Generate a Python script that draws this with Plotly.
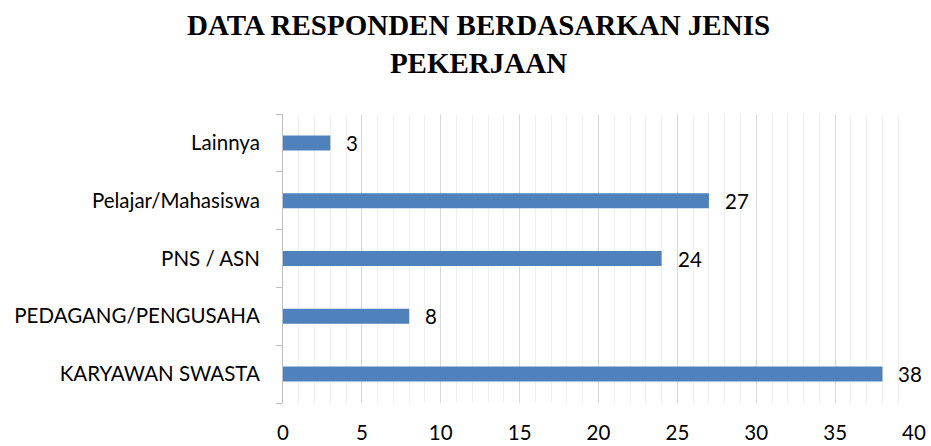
import plotly.graph_objects as go

categories = ["KARYAWAN SWASTA", "PEDAGANG/PENGUSAHA", "PNS / ASN", "Pelajar/Mahasiswa", "Lainnya"]
values = [38, 8, 24, 27, 3]
x_ticks = [0, 5, 10, 15, 20, 25, 30, 35, 40]

LABEL_FONT = "Lato, 'Open Sans', sans-serif"
FS = 20.5

fig = go.Figure()
fig.add_trace(go.Bar(
    x=values, y=categories, orientation="h",
    marker=dict(color="#4f81bd", line=dict(width=0)),
    width=0.26,
))

for v, c in zip(values, categories):
    fig.add_annotation(x=v, y=c, text=str(v), showarrow=False,
                       xanchor="left", yanchor="middle", xshift=14,
                       font=dict(family=LABEL_FONT, size=FS, color="#000000"))

fig.update_layout(
    width=931, height=446,
    margin=dict(l=283, r=17, t=114, b=43, autoexpand=False),
    paper_bgcolor="white", plot_bgcolor="white",
    showlegend=False,
    title=dict(text="<b>DATA RESPONDEN BERDASARKAN JENIS<br>PEKERJAAN</b>",
               x=0.514, xanchor="center", y=0.921, yanchor="middle",
               font=dict(family="'Liberation Serif', serif", size=29, color="#000000")),
    font=dict(family=LABEL_FONT, size=FS, color="#000000"),
)
fig.update_xaxes(
    range=[0, 40], tickvals=x_ticks, ticktext=[str(t) for t in x_ticks],
    showgrid=True, gridcolor="#d9d9d9", gridwidth=1,
    minor=dict(dtick=1, showgrid=True, gridcolor="#f0f0f0", gridwidth=1),
    zeroline=False, showline=False, ticks="", automargin=False,
    ticklabelstandoff=15,
    tickfont=dict(family=LABEL_FONT, size=FS, color="#000000"),
)
fig.update_yaxes(
    categoryorder="array", categoryarray=categories,
    showline=True, linecolor="#bfbfbf", linewidth=1,
    ticks="outside", ticklen=6, tickcolor="#bfbfbf", tickson="boundaries",
    showgrid=False, ticklabelstandoff=18, automargin=False,
    tickfont=dict(family=LABEL_FONT, size=FS, color="#000000"),
)
fig.write_html("out.html", config={"displayModeBar": False},
               post_script="document.body.style.margin='0';document.body.style.overflow='hidden';")
